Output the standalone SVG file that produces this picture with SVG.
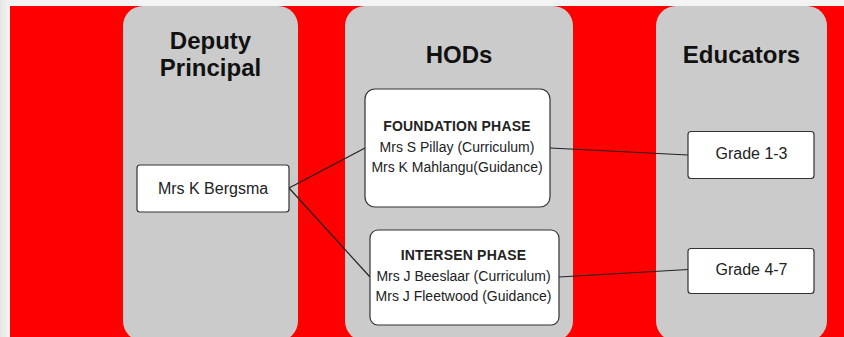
<svg xmlns="http://www.w3.org/2000/svg" width="844" height="337" viewBox="0 0 844 337">
<defs>
<linearGradient id="bgg" x1="0" y1="0" x2="1" y2="0">
<stop offset="0" stop-color="#e6e6e6"/>
<stop offset="1" stop-color="#f4f4f4"/>
</linearGradient>
</defs>
<style>
.lane{fill:#cbcbcb}
.title{font-family:"Liberation Sans",Arial,sans-serif;font-weight:bold;font-size:24px;fill:#111;text-anchor:middle}
.box{fill:#fff;stroke:#333;stroke-width:1.2}
.t16{font-family:"Liberation Sans",Arial,sans-serif;font-size:16px;fill:#222;text-anchor:middle}
.t14{font-family:"Liberation Sans",Arial,sans-serif;font-size:14px;fill:#222;text-anchor:middle}
.hb{font-weight:bold;letter-spacing:0.2px}
.conn line{stroke:#222;stroke-width:1.2}
</style>
<rect x="0" y="0" width="844" height="337" fill="#f4f4f4"/>
<rect x="0" y="0" width="10" height="337" fill="url(#bgg)"/>
<rect x="10" y="6" width="834" height="331" fill="#ff0000"/>
<g id="lane-deputy">
<rect class="lane" x="123" y="6" width="175" height="335" rx="20"/>
<text class="title" x="210.5" y="49">Deputy</text>
<text class="title" x="210.5" y="76">Principal</text>
</g>
<g id="lane-hods">
<rect class="lane" x="345" y="6" width="228" height="335" rx="20"/>
<text class="title" x="459" y="62.5">HODs</text>
</g>
<g id="lane-educators">
<rect class="lane" x="656" y="6" width="171" height="335" rx="20"/>
<text class="title" x="741.5" y="62.5">Educators</text>
</g>
<g class="conn" id="connectors">
<line x1="289" y1="188" x2="365" y2="148"/>
<line x1="289" y1="188" x2="370" y2="277"/>
<line x1="550" y1="148" x2="688" y2="155"/>
<line x1="559" y1="277" x2="688" y2="269.5"/>
</g>
<g id="node-bergsma">
<rect class="box" x="137" y="165" width="152" height="47" rx="3"/>
<text class="t16" x="213" y="193.5">Mrs K Bergsma</text>
</g>
<g id="node-foundation">
<rect class="box" x="365" y="89" width="185" height="118" rx="10"/>
<text class="t14 hb" x="457" y="131">FOUNDATION PHASE</text>
<text class="t14" x="457" y="151.5">Mrs S Pillay (Curriculum)</text>
<text class="t14" x="457" y="171.5">Mrs K Mahlangu(Guidance)</text>
</g>
<g id="node-intersen">
<rect class="box" x="370" y="230" width="189" height="95" rx="8"/>
<text class="t14 hb" x="463.5" y="260">INTERSEN PHASE</text>
<text class="t14" x="463.5" y="280.5">Mrs J Beeslaar (Curriculum)</text>
<text class="t14" x="463.5" y="300.5">Mrs J Fleetwood (Guidance)</text>
</g>
<g id="node-grade13">
<rect class="box" x="688" y="131.5" width="126" height="47" rx="3"/>
<text class="t16" x="751.5" y="158.5">Grade 1-3</text>
</g>
<g id="node-grade47">
<rect class="box" x="688" y="248.5" width="126" height="45" rx="3"/>
<text class="t16" x="751.5" y="274.5">Grade 4-7</text>
</g>
</svg>
